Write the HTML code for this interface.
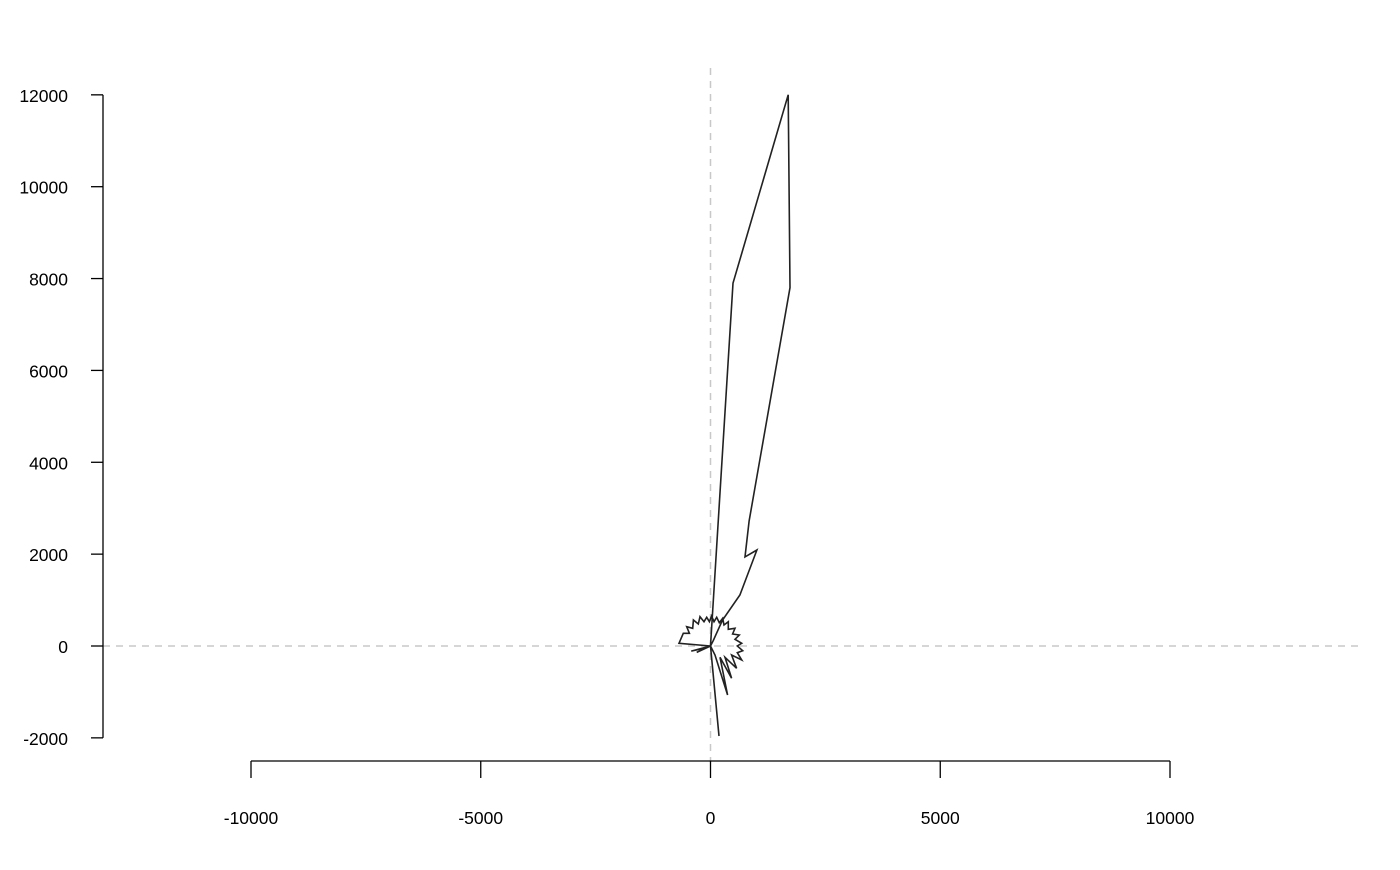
<!DOCTYPE html>
<html><head><meta charset="utf-8"><style>
body{margin:0;background:#fff}
svg text{font-family:"Liberation Sans",sans-serif;font-size:17.5px;fill:#000}
</style></head><body>
<svg id="c" width="1400" height="865"></svg>
<script>
const xTicks=[-10000,-5000,0,5000,10000];
const yTicks=[-2000,0,2000,4000,6000,8000,10000,12000];
const pathX=[185,0,490,1690,1730,840,750,1010,640,260,60,0,-300,-100,-420,0,-685,-591,-460,-518,-388,-373,-265,-228,-141,-83,-25,25,76,134,192,265,294,388,388,533,482,627,533,678,584,700,584,678,460,569,315,460,207,373,98,0];
const pathY=[-1960,0,7900,12000,7800,2720,1940,2090,1110,560,120,0,-140,-40,-110,0,58,276,276,421,385,566,479,639,530,624,530,653,530,624,508,603,457,530,363,385,261,240,145,58,0,-102,-145,-305,-196,-486,-247,-704,-247,-1067,-196,0];
const sx=v=>710.5+v*0.04595, sy=v=>646-v*0.04593;
const svg=document.getElementById('c');const NS='http://www.w3.org/2000/svg';
function mk(t,a,p){const e=document.createElementNS(NS,t);for(const k in a)e.setAttribute(k,a[k]);(p||svg).appendChild(e);return e;}
let e;
e=mk('line',{x1:103,y1:sy(0),x2:1362,y2:sy(0),stroke:'#c8c8c8','stroke-width':1.5,'stroke-dasharray':'7,6'});


e=mk('line',{x1:sx(0),y1:68,x2:sx(0),y2:762,stroke:'#c8c8c8','stroke-width':1.5,'stroke-dasharray':'7,6'});


e=mk('line',{x1:103,y1:sy(yTicks[yTicks.length-1]),x2:103,y2:sy(yTicks[0]),stroke:'#000','stroke-width':1.3});


yTicks.forEach(v=>{
 mk('line',{x1:91,y1:sy(v),x2:103,y2:sy(v),stroke:'#000','stroke-width':1.3});
 const t=mk('text',{x:68,y:sy(v)+7,'text-anchor':'end'});t.textContent=v;
 
 
});
e=mk('line',{x1:sx(xTicks[0]),y1:761,x2:sx(xTicks[xTicks.length-1]),y2:761,stroke:'#000','stroke-width':1.3});


xTicks.forEach(v=>{
 mk('line',{x1:sx(v),y1:761,x2:sx(v),y2:778,stroke:'#000','stroke-width':1.3});
 const t=mk('text',{x:sx(v),y:824,'text-anchor':'middle'});t.textContent=v;
 
 
});
const pts=pathX.map((x,i)=>sx(x).toFixed(1)+','+sy(pathY[i]).toFixed(1)).join(' ');
e=mk('polyline',{points:pts,fill:'none',stroke:'#222','stroke-width':1.6,'stroke-linejoin':'miter'});


</script>
</body></html>
